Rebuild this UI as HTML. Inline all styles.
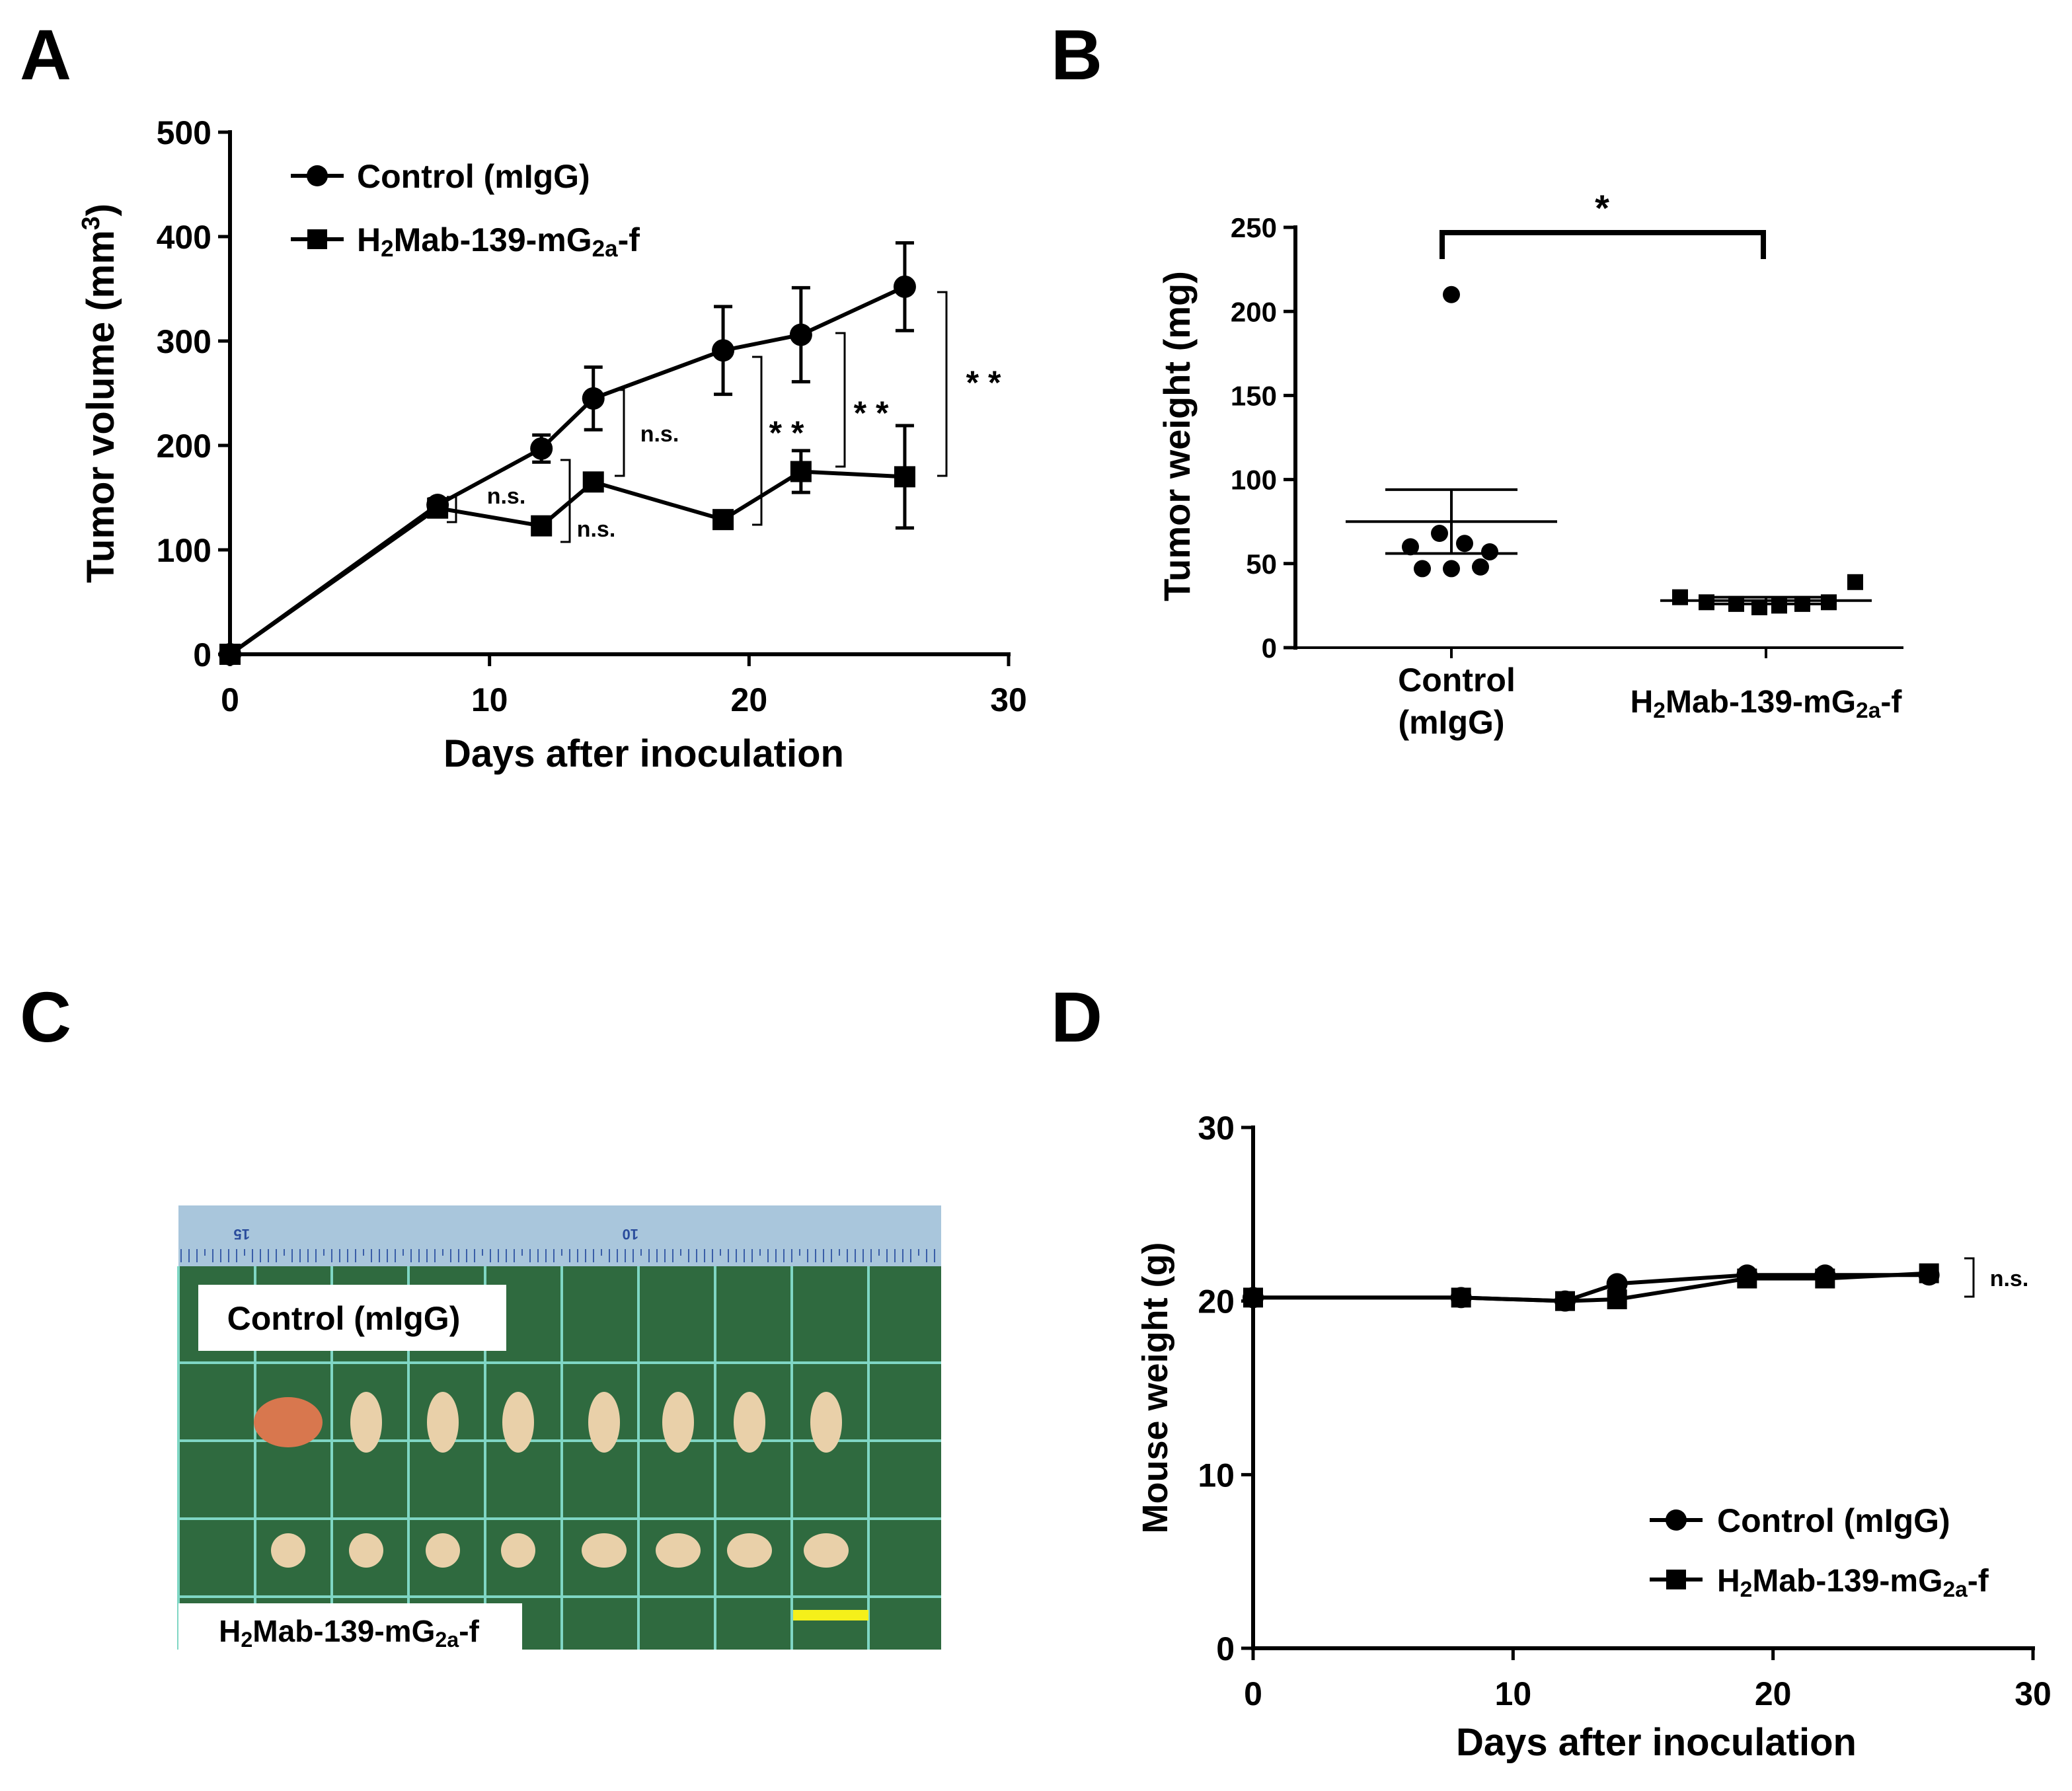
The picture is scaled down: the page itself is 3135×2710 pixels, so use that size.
<!DOCTYPE html>
<html><head><meta charset="utf-8"><style>
html,body{margin:0;padding:0;background:#fff}
svg{display:block;font-family:"Liberation Sans",sans-serif;font-weight:bold}
</style></head><body>
<svg id="fig" width="3135" height="2710" viewBox="0 0 3135 2710">
<g font-size="108">
<text x="30" y="120">A</text>
<text x="1590" y="120">B</text>
<text x="30" y="1576">C</text>
<text x="1590" y="1576">D</text>
</g>
<g id="pa"></g>
<g id="pb"></g>
<g id="pd"></g>
<g id="pc">
<rect x="270" y="1824" width="1154" height="672" fill="#2f6a3f"/>
<rect x="270" y="1824" width="1154" height="92" fill="#a9c6dc"/>
<text x="378" y="1872" font-size="22" fill="#2a4c9c" transform="rotate(180 378 1866)">15</text>
<text x="966" y="1872" font-size="22" fill="#2a4c9c" transform="rotate(180 966 1866)">10</text>
</g>
</svg>
<script>
var NS="http://www.w3.org/2000/svg";
function mk(p,t,a){var e=document.createElementNS(NS,t);for(var k in a)e.setAttribute(k,a[k]);p.appendChild(e);return e;}
// ---- Panel A data
var daysA=[0,8,12,14,19,22,26];
var ctrlA=[0,143,197,245,291,306,352];
var ctrlAErr=[0,6,13,30,42,45,42];
var h2A=[0,140,123,165,129,175,170];
var h2AErr=[0,8,5,6,6,20,49];
var xTicksA=[0,10,20,30];
var yTicksA=[0,100,200,300,400,500];
// ---- Panel B data
var bCats=["Control","H2Mab"];
var bCtrl=[210,60,68,62,57,47,47,48];
var bH2=[30,27,26,24,25,26,27,39];
var bMeans=[75,28];
var bSem=[19,2];
var yTicksB=[0,50,100,150,200,250];
// ---- Panel D data
var daysD=[0,8,12,14,19,22,26];
var ctrlD=[20.2,20.2,20.0,21.0,21.5,21.5,21.5];
var h2D=[20.2,20.2,20.0,20.1,21.3,21.3,21.6];
var xTicksD=[0,10,20,30];
var yTicksD=[0,10,20,30];

function axes(g,x0,x1,y0,y1,xs,ys,xt,yt,fs){
  mk(g,'line',{x1:x0,y1:y0+3,x2:x0,y2:y1-3,stroke:'#000','stroke-width':6});
  if(xt){var l=mk(g,'line',{x1:x0-3,y1:y0,x2:x1+3,y2:y0,stroke:'#000','stroke-width':6});
  xt.forEach(function(v){var tk=mk(g,'line',{x1:xs(v),y1:y0,x2:xs(v),y2:y0+18,stroke:'#000','stroke-width':5});
   var t=mk(g,'text',{x:xs(v),y:y0+86,'font-size':fs,'text-anchor':'middle'});t.textContent=v;});}
  yt.forEach(function(v){var tk=mk(g,'line',{x1:x0-18,y1:ys(v),x2:x0,y2:ys(v),stroke:'#000','stroke-width':5});
   var t=mk(g,'text',{x:x0-28,y:ys(v)+fs*0.36,'font-size':fs,'text-anchor':'end'});t.textContent=v;});
}
function txt(g,x,y,s,fs,anchor,name,rot){var t=mk(g,'text',{x:x,y:y,'font-size':fs,'text-anchor':anchor||'middle'});if(rot)t.setAttribute('transform','rotate(-90 '+x+' '+y+')');t.innerHTML=s;return t;}
function circ(g,x,y,r,n){var c=mk(g,'circle',{cx:x,cy:y,r:r,fill:'#000'});}
function sq(g,x,y,s,n){var c=mk(g,'rect',{x:x-s/2,y:y-s/2,width:s,height:s,fill:'#000'});}
function line(g,pts,n){var p=mk(g,'polyline',{points:pts.map(function(q){return q.join(',')}).join(' '),fill:'none',stroke:'#000','stroke-width':6});}
function bracket(g,x,ya,yb,n){var p=mk(g,'path',{d:'M'+(x-14)+','+ya+' H'+x+' V'+yb+' H'+(x-14),fill:'none',stroke:'#000','stroke-width':3});}
var sub2='H<tspan font-size="0.7em" dy="8">2</tspan><tspan dy="-8">Mab-139-mG</tspan><tspan font-size="0.7em" dy="8">2a</tspan><tspan dy="-8">-f</tspan>';

// Panel A
(function(){
 var g=document.getElementById('pa');
 var xs=function(v){return 348+v*(1526-348)/30}, ys=function(v){return 990-v*(990-200)/500};
 axes(g,348,1526,990,200,xs,ys,xTicksA,yTicksA,50);
 txt(g,974,1160,'Days after inoculation',58,'middle','x-axis-title');
 txt(g,172,595,'Tumor volume (mm<tspan font-size="0.65em" dy="-22">3</tspan><tspan dy="22">)</tspan>',58,'middle','y-axis-title',true);
 line(g,daysA.map(function(d,i){return[xs(d),ys(ctrlA[i])]}),'control-line');
 line(g,daysA.map(function(d,i){return[xs(d),ys(h2A[i])]}),'h2mab-line');
 daysA.forEach(function(d,i){
  [[ctrlA,ctrlAErr],[h2A,h2AErr]].forEach(function(s){ if(s[1][i]>0){var x=xs(d),a=ys(s[0][i]+s[1][i]),b=ys(s[0][i]-s[1][i]);
   var e=mk(g,'path',{d:'M'+(x-14)+','+a+'H'+(x+14)+'M'+x+','+a+'V'+b+'M'+(x-14)+','+b+'H'+(x+14),stroke:'#000','stroke-width':5,fill:'none'});}});
  circ(g,xs(d),ys(ctrlA[i]),17,'control-point');
  sq(g,xs(d),ys(h2A[i]),32,'h2mab-point');
 });
 var lg=mk(g,'g',{});
 line(lg,[[440,266],[520,266]],'legend-line-control');circ(lg,480,266,16,'legend-marker-control');
 txt(lg,540,284,'Control (mIgG)',50,'start','legend-label-control');
 line(lg,[[440,362],[520,362]],'legend-line-h2mab');sq(lg,480,362,30,'legend-marker-h2mab');
 txt(lg,540,380,sub2,50,'start','legend-label-h2mab');
 bracket(g,690,752,790,'sig-bracket-day8');txt(g,766,762,'n.s.',34,'middle','sig-label-day8');
 bracket(g,862,696,820,'sig-bracket-day12');txt(g,902,812,'n.s.',34,'middle','sig-label-day12');
 bracket(g,944,590,720,'sig-bracket-day14');txt(g,998,668,'n.s.',34,'middle','sig-label-day14');
 bracket(g,1152,540,794,'sig-bracket-day19');txt(g,1190,672,'* *',50,'middle','sig-label-day19');
 bracket(g,1278,504,706,'sig-bracket-day22');txt(g,1318,642,'* *',50,'middle','sig-label-day22');
 bracket(g,1432,442,720,'sig-bracket-day26');txt(g,1488,596,'* *',50,'middle','sig-label-day26');
})();

// Panel B
(function(){
 var g=document.getElementById('pb');
 var ys=function(v){return 980-v*(980-344)/250};
 var cx=[2196,2672];
 axes(g,1960,2880,980,344,null,ys,null,yTicksB,42);
 mk(g,'line',{x1:1957,y1:980,x2:2880,y2:980,stroke:'#000','stroke-width':4});
 cx.forEach(function(x){mk(g,'line',{x1:x,y1:980,x2:x,y2:996,stroke:'#000','stroke-width':4});});
 txt(g,1800,660,'Tumor weight (mg)',56,'middle','y-axis-title',true);
 txt(g,2204,1046,'Control',50,'middle','x-label-control');
 txt(g,2196,1110,'(mIgG)',50,'middle','x-label-control-sub');
 txt(g,2672,1078,sub2,48,'middle','x-label-h2mab');
 bCtrl.forEach(function(v,i){var dx=i===0?0:[-62,-18,20,58,-44,0,44][i-1];circ(g,cx[0]+dx,ys(v),13,'control-point');});
 bH2.forEach(function(v,i){var dx=[-130,-90,-45,-10,20,55,95,135][i];sq(g,cx[1]+dx,ys(v),24,'h2mab-point');});
 [0,1].forEach(function(k){var x=cx[k],m=ys(bMeans[k]),a=ys(bMeans[k]+bSem[k]),b=ys(bMeans[k]-bSem[k]);
  var e=mk(g,'path',{d:'M'+(x-160)+','+m+'H'+(x+160)+'M'+(x-100)+','+a+'H'+(x+100)+'M'+x+','+a+'V'+b+'M'+(x-100)+','+b+'H'+(x+100),stroke:'#000','stroke-width':4,fill:'none'});
  });
 var br=mk(g,'path',{d:'M2182,392V352H2668V392',stroke:'#000','stroke-width':8,fill:'none'});
 txt(g,2424,334,'*',56,'middle','sig-label');
})();

// Panel D
(function(){
 var g=document.getElementById('pd');
 var xs=function(v){return 1896+v*(3076-1896)/30}, ys=function(v){return 2494-v*(2494-1706)/30};
 axes(g,1896,3076,2494,1706,xs,ys,xTicksD,yTicksD,50);
 txt(g,2506,2656,'Days after inoculation',58,'middle','x-axis-title');
 txt(g,1766,2100,'Mouse weight (g)',54,'middle','y-axis-title',true);
 line(g,daysD.map(function(d,i){return[xs(d),ys(ctrlD[i])]}),'control-line');
 line(g,daysD.map(function(d,i){return[xs(d),ys(h2D[i])]}),'h2mab-line');
 daysD.forEach(function(d,i){circ(g,xs(d),ys(ctrlD[i]),16,'control-point');sq(g,xs(d),ys(h2D[i]),30,'h2mab-point');});
 bracket(g,2986,1904,1962,'sig-bracket');txt(g,3040,1946,'n.s.',34,'middle','sig-label');
 var lg=mk(g,'g',{});
 line(lg,[[2496,2300],[2576,2300]],'legend-line-control');circ(lg,2536,2300,16,'legend-marker-control');
 txt(lg,2598,2318,'Control (mIgG)',50,'start','legend-label-control');
 line(lg,[[2496,2390],[2576,2390]],'legend-line-h2mab');sq(lg,2536,2390,30,'h2mab-legend-marker');
 txt(lg,2598,2408,sub2,48,'start','legend-label-h2mab');
})();

// Panel C photo
(function(){
 var g=document.getElementById('pc');
 for(var x=270;x<=1424;x+=116){var l=mk(g,'line',{x1:x,y1:1916,x2:x,y2:2496,stroke:'#7fd6c4','stroke-width':4});}
 [2062,2180,2298,2416].forEach(function(y){var l=mk(g,'line',{x1:270,y1:y,x2:1424,y2:y,stroke:'#7fd6c4','stroke-width':4});});
 for(var x=274;x<1424;x+=12){mk(g,'line',{x1:x,y1:1890,x2:x,y2:(x%60<12?1870:1880)+30,stroke:'#3a5ea8','stroke-width':2});}
 var b=mk(g,'rect',{x:300,y:1944,width:466,height:100,fill:'#fff'});
 txt(g,520,2012,'Control (mIgG)',50,'middle','photo-label-control');
 var b2=mk(g,'rect',{x:270,y:2426,width:520,height:80,fill:'#fff'});
 txt(g,528,2484,sub2,46,'middle','photo-label-h2mab');
 [436,554,670,784,914,1026,1134,1250].forEach(function(x,i){
  var e=mk(g,'ellipse',{cx:x,cy:2152,rx:i===0?52:24,ry:i===0?38:46,fill:i===0?'#d8774e':'#e9d0a9'});
  var e2=mk(g,'ellipse',{cx:x,cy:2346,rx:i>3?34:26,ry:26,fill:'#e9d0a9'});});
 var sb=mk(g,'rect',{x:1200,y:2436,width:114,height:16,fill:'#f5f01a'});
})();
</script>
</body></html>
